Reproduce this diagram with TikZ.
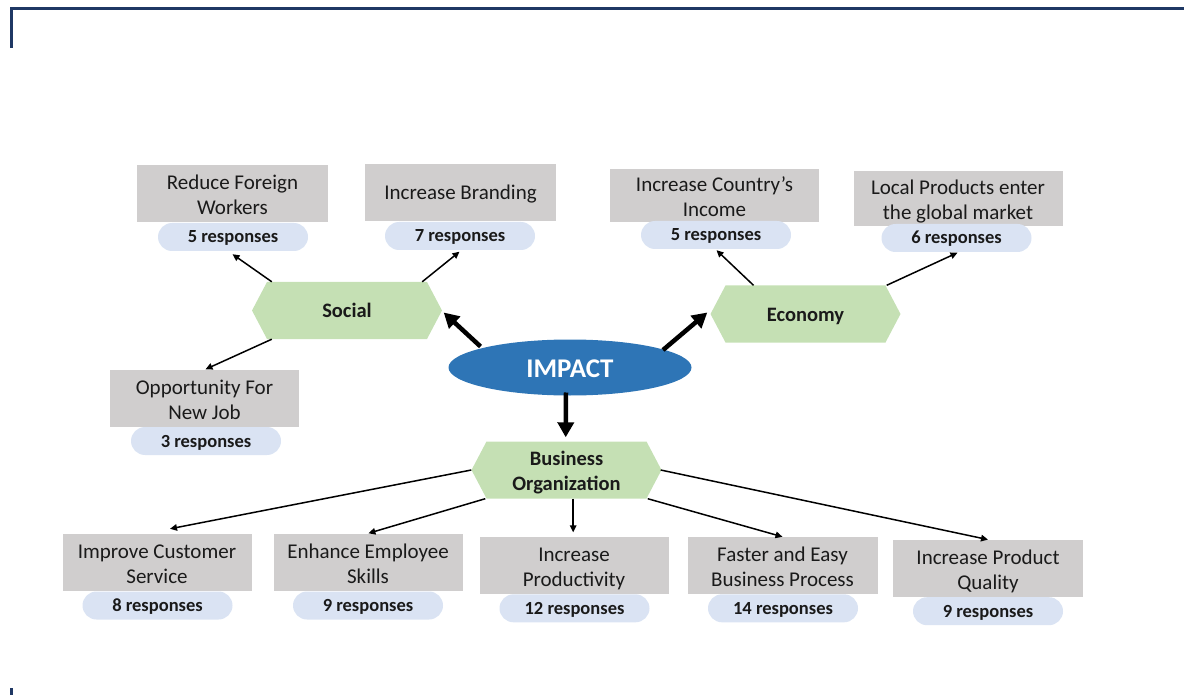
\documentclass[tikz,border=0pt]{standalone}
\usepackage{fontspec}
\setmainfont{Carlito}
\usetikzlibrary{arrows.meta,calc,shapes.geometric}
\definecolor{boxgray}{HTML}{D0CECE}
\definecolor{pillblue}{HTML}{DAE3F3}
\definecolor{hexgreen}{HTML}{C5E0B4}
\definecolor{impblue}{HTML}{2E75B6}
\definecolor{framecol}{HTML}{1F3864}
\definecolor{txt}{HTML}{1A1A1A}
\tikzset{
  grbox/.style={rectangle, fill=boxgray, minimum width=#1, minimum height=57pt, inner sep=0pt, align=center, text=txt,
    font=\fontsize{21}{25}\selectfont, text height=42.5pt, text depth=1pt},
  grbox/.default=190pt,
  oneline/.style={text height=17.4pt, text depth=4pt},
  pill/.style={rectangle, rounded corners=14pt, fill=pillblue, minimum width=150pt, minimum height=28pt, inner sep=0pt, text=txt,
    font=\bfseries\fontsize{18.5}{22}\selectfont, text height=15pt, text depth=3pt},
  hexnode/.style={rectangle, minimum width=190pt, minimum height=57pt, inner sep=0pt, align=center, text=txt,
    font=\bfseries\fontsize{20.5}{25}\selectfont, text height=17.5pt, text depth=3.5pt,
    path picture={\fill[hexgreen] (path picture bounding box.west) -- ([xshift=15pt]path picture bounding box.north west) -- ([xshift=-15pt]path picture bounding box.north east) -- (path picture bounding box.east) -- ([xshift=-15pt]path picture bounding box.south east) -- ([xshift=15pt]path picture bounding box.south west) -- cycle;}},
  thin/.style={line width=1.5pt, -{Triangle[length=7pt,width=6.5pt]}},
  thick/.style={line width=4.5pt, -{Triangle[length=15pt,width=16pt]}},
}
\begin{document}
\begin{tikzpicture}[x=1pt,y=-1pt]
\useasboundingbox (0,0) rectangle (1184,695);
% frame marks
\draw[framecol, line width=2.7pt] (11.3,47.7) -- (11.3,8.7) -- (1184,8.7);
\draw[framecol, line width=2.7pt] (11.3,688) -- (11.3,695);

% central ellipse
\node[ellipse, fill=impblue, minimum width=243pt, minimum height=56pt, inner sep=0pt, text=white,
  font=\bfseries\fontsize{27}{30}\selectfont, text height=20pt, text depth=0pt] (imp) at (570,367.5) {IMPACT};

% category hexagons
\node[hexnode] (soc) at (347,310.5) {Social};
\node[hexnode] (eco) at (805.5,314) {Economy};
\node[hexnode, text height=44pt, text depth=3.6pt] (bus) at (566.5,470) {Business\\Organization};

% social boxes
\node[grbox=191pt] (rf) at (232.5,193.5) {Reduce Foreign\\Workers};
\node[pill] (p1) at (233,237) {5 responses};
\node[grbox=191pt, oneline] (ib) at (460.5,192.5) {Increase Branding};
\node[pill] (p2) at (460,236) {7 responses};
\node[grbox=189pt] (op) at (204.5,398.5) {Opportunity For\\New Job};
\node[pill] (p3) at (206,441) {3 responses};

% economy boxes
\node[grbox=209pt, minimum height=53pt] (ic) at (714.5,196) {Increase Country’s\\Income};
\node[pill] (p4) at (716,235) {5 responses};
\node[grbox=209pt, minimum height=55pt] (lp) at (958,198.5) {Local Products enter\\the global market};
\node[pill] (p5) at (956.5,238) {6 responses};

% business boxes
\node[grbox=189pt] (cs) at (157,562.5) {Improve Customer\\Service};
\node[pill] (p6) at (157.5,605.5) {8 responses};
\node[grbox=189pt] (es) at (368,562.5) {Enhance Employee\\Skills};
\node[pill] (p7) at (368,605.5) {9 responses};
\node[grbox=189pt] (ip) at (574,565.5) {Increase\\Productivity};
\node[pill] (p8) at (574.5,608.3) {12 responses};
\node[grbox=190pt] (fe) at (782.5,565.5) {Faster and Easy\\Business Process};
\node[pill] (p9) at (783,608.3) {14 responses};
\node[grbox=190pt] (pq) at (988,568.3) {Increase Product\\Quality};
\node[pill] (p10) at (988,611.2) {9 responses};

% thick arrows from IMPACT
\draw[thick] ($(imp.center)+(-89.5,-21)$) -- ($(soc.east)+(1.5,2)$);
\draw[thick] ($(imp.center)+(93,-17.5)$) -- ($(eco.west)+(-3,-1.5)$);
\draw[thick] ($(imp.center)+(-4,25)$) -- ($(bus.north)+(-0.8,-4)$);

% social connectors
\draw[thin] ([xshift=20pt]soc.north west) -- ($(p1.south)+(-0.5,3)$);
\draw[thin] ([xshift=-20pt]soc.north east) -- ($(p2.south)+(-0.5,1.5)$);
\draw[thin] ([xshift=20pt]soc.south west) -- ($(op.north)+(1,-0.5)$);

% economy connectors
\draw[thin] ([xshift=-52pt]eco.north) -- ($(p4.south)+(0.5,1)$);
\draw[thin] ([xshift=-14pt]eco.north east) -- ($(p5.south)+(1,0.5)$);

% business connectors
\draw[thin] (bus.west) -- ($(cs.north)+(13,-5)$);
\draw[thin] ([xshift=14pt]bus.south west) -- ($(es.north)+(0.4,-0.5)$);
\draw[thin] ([xshift=6.7pt]bus.south) -- ($(ip.north)+(-0.8,-4.5)$);
\draw[thin] ([xshift=-14pt]bus.south east) -- (fe.north);
\draw[thin] ([xshift=-1pt]bus.east) -- (pq.north);
\end{tikzpicture}
\end{document}
